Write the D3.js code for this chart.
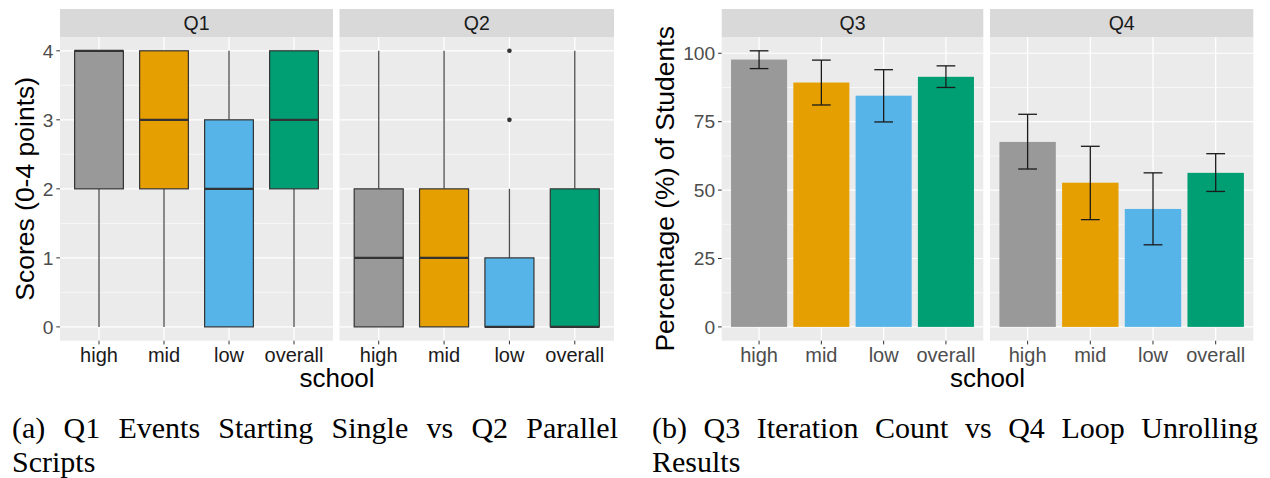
<!DOCTYPE html>
<html>
<head>
<meta charset="utf-8">
<script src="https://cdn.jsdelivr.net/npm/d3@7"></script>
<style>
  body { margin: 0; background: #ffffff; }
  svg { display: block; }
</style>
</head>
<body>
<svg id="fig" width="1270" height="478"></svg>
<script>
// ---- data ----------------------------------------------------------------
const schools = ["high", "mid", "low", "overall"];
const schoolColors = ["#999999", "#E69F00", "#56B4E9", "#009E73"];

// Q1 box-plot statistics (scores 0-4)
const q1WhiskerLow  = [0, 0, 0, 0];
const q1Lower       = [2, 2, 0, 2];
const q1Median      = [4, 3, 2, 3];
const q1Upper       = [4, 4, 3, 4];
const q1WhiskerHigh = [4, 4, 4, 4];
const q1Outliers    = [[], [], [], []];

// Q2 box-plot statistics (scores 0-4)
const q2WhiskerLow  = [0, 0, 0, 0];
const q2Lower       = [0, 0, 0, 0];
const q2Median      = [1, 1, 0, 0];
const q2Upper       = [2, 2, 1, 2];
const q2WhiskerHigh = [4, 4, 2, 4];
const q2Outliers    = [[], [], [3, 4], []];

// Q3 / Q4 percentage correct with confidence intervals
const q3Percent = [97.7, 89.3, 84.5, 91.4];
const q3Lo      = [94.4, 81.1, 74.9, 87.5];
const q3Hi      = [100.9, 97.5, 94.0, 95.4];
const q4Percent = [67.6, 52.7, 43.1, 56.3];
const q4Lo      = [57.7, 39.2, 30.0, 49.5];
const q4Hi      = [77.7, 66.0, 56.3, 63.3];

const scoreTicks = [0, 1, 2, 3, 4];
const scoreMinor = [0.5, 1.5, 2.5, 3.5];
const pctTicks = [0, 25, 50, 75, 100];
const pctMinor = [12.5, 37.5, 62.5, 87.5];

const captionA = ["(a) Q1 Events Starting Single vs Q2 Parallel", "Scripts"];
const captionB = ["(b) Q3 Iteration Count vs Q4 Loop Unrolling", "Results"];

// ---- layout --------------------------------------------------------------
const svg = d3.select("#fig");
const SANS = "'Liberation Sans', Arial, Helvetica, sans-serif";
const SERIF = "'Liberation Serif', 'Times New Roman', serif";
const stripTop = 9, panelTop = 37, panelBottom = 340.7;

const boxPanels = [
  { name: "Q1", x0: 60, x1: 333, lw: q1WhiskerLow, lo: q1Lower, med: q1Median, hi: q1Upper, hw: q1WhiskerHigh, out: q1Outliers },
  { name: "Q2", x0: 339.5, x1: 614, lw: q2WhiskerLow, lo: q2Lower, med: q2Median, hi: q2Upper, hw: q2WhiskerHigh, out: q2Outliers }
];
const barPanels = [
  { name: "Q3", x0: 721.7, x1: 983.3, val: q3Percent, lo: q3Lo, hi: q3Hi },
  { name: "Q4", x0: 990, x1: 1253.3, val: q4Percent, lo: q4Lo, hi: q4Hi }
];

// continuous y scales with ggplot-style 5% expansion
function expandedScale(lo, hi) {
  const pad = (hi - lo) * 0.05;
  return d3.scaleLinear().domain([lo - pad, hi + pad]).range([panelBottom, panelTop]);
}
const yScore = expandedScale(0, 4);
const yPct = expandedScale(0, d3.max([...q3Hi, ...q4Hi]));

// discrete x position scale (categories at 1..n, 0.6 expansion)
function xFor(p) {
  return d3.scaleLinear().domain([0.4, schools.length + 0.6]).range([p.x0, p.x1]);
}

function drawPanelFrame(p, y, major, minor, xLabelColor) {
  const g = svg.append("g");
  const x = xFor(p);
  // strip
  g.append("rect").attr("x", p.x0).attr("y", stripTop)
    .attr("width", p.x1 - p.x0).attr("height", panelTop - stripTop).attr("fill", "#D9D9D9");
  g.append("text").attr("x", (p.x0 + p.x1) / 2).attr("y", 30)
    .attr("text-anchor", "middle").attr("font-family", SANS).attr("font-size", 19.5)
    .attr("fill", "#1A1A1A").text(p.name);
  // background
  g.append("rect").attr("x", p.x0).attr("y", panelTop)
    .attr("width", p.x1 - p.x0).attr("height", panelBottom - panelTop).attr("fill", "#EBEBEB");
  // grid
  g.selectAll(".minor").data(minor).join("line")
    .attr("x1", p.x0).attr("x2", p.x1).attr("y1", d => y(d)).attr("y2", d => y(d))
    .attr("stroke", "#ffffff").attr("stroke-width", 0.6);
  g.selectAll(".majorY").data(major).join("line")
    .attr("x1", p.x0).attr("x2", p.x1).attr("y1", d => y(d)).attr("y2", d => y(d))
    .attr("stroke", "#ffffff").attr("stroke-width", 1.2);
  g.selectAll(".majorX").data(schools).join("line")
    .attr("x1", (d, i) => x(i + 1)).attr("x2", (d, i) => x(i + 1))
    .attr("y1", panelTop).attr("y2", panelBottom)
    .attr("stroke", "#ffffff").attr("stroke-width", 1.2);
  // x axis ticks + labels
  g.selectAll(".xt").data(schools).join("line")
    .attr("x1", (d, i) => x(i + 1)).attr("x2", (d, i) => x(i + 1))
    .attr("y1", panelBottom).attr("y2", panelBottom + 3.7)
    .attr("stroke", "#333333").attr("stroke-width", 1);
  g.selectAll(".xl").data(schools).join("text")
    .attr("x", (d, i) => x(i + 1)).attr("y", 362)
    .attr("text-anchor", "middle").attr("font-family", SANS).attr("font-size", 20)
    .attr("fill", xLabelColor).text(d => d);
  return { g, x };
}

function drawYAxis(x0, y, ticks, fmt) {
  const g = svg.append("g");
  g.selectAll("line").data(ticks).join("line")
    .attr("x1", x0 - 3.7).attr("x2", x0).attr("y1", d => y(d)).attr("y2", d => y(d))
    .attr("stroke", "#333333").attr("stroke-width", 1);
  g.selectAll("text").data(ticks).join("text")
    .attr("x", x0 - 6.5).attr("y", d => y(d) + 6.8)
    .attr("text-anchor", "end").attr("font-family", SANS).attr("font-size", 19.2)
    .attr("fill", "#4D4D4D").text(fmt);
}

function axisTitles(xTitleX, yTitleX, yText) {
  svg.append("text").attr("x", xTitleX).attr("y", 387)
    .attr("text-anchor", "middle").attr("font-family", SANS).attr("font-size", 26)
    .attr("fill", "#000").text("school");
  svg.append("text")
    .attr("transform", `translate(${yTitleX},${(panelTop + panelBottom) / 2}) rotate(-90)`)
    .attr("text-anchor", "middle").attr("font-family", SANS).attr("font-size", 26.5)
    .attr("fill", "#000").text(yText);
}

// ---- (a) box plots --------------------------------------------------------
boxPanels.forEach(p => {
  const { g, x } = drawPanelFrame(p, yScore, scoreTicks, scoreMinor, "#1A1A1A");
  const half = 0.375;
  schools.forEach((s, i) => {
    const cx = x(i + 1);
    // whiskers
    g.append("line").attr("x1", cx).attr("x2", cx)
      .attr("y1", yScore(p.hi[i])).attr("y2", yScore(p.hw[i]))
      .attr("stroke", "#4D4D4D").attr("stroke-width", 1.3);
    g.append("line").attr("x1", cx).attr("x2", cx)
      .attr("y1", yScore(p.lo[i])).attr("y2", yScore(p.lw[i]))
      .attr("stroke", "#4D4D4D").attr("stroke-width", 1.3);
    // box
    const bx0 = x(i + 1 - half), bx1 = x(i + 1 + half);
    g.append("rect").attr("x", bx0).attr("y", yScore(p.hi[i]))
      .attr("width", bx1 - bx0).attr("height", Math.max(0, yScore(p.lo[i]) - yScore(p.hi[i])))
      .attr("fill", schoolColors[i]).attr("stroke", "#333333").attr("stroke-width", 1.2);
    // median
    g.append("line").attr("x1", bx0).attr("x2", bx1)
      .attr("y1", yScore(p.med[i])).attr("y2", yScore(p.med[i]))
      .attr("stroke", "#333333").attr("stroke-width", 2.2);
    // outliers
    g.selectAll(null).data(p.out[i]).join("circle")
      .attr("cx", cx).attr("cy", d => yScore(d)).attr("r", 2.3).attr("fill", "#333333");
  });
});
drawYAxis(boxPanels[0].x0, yScore, scoreTicks, d => d);
axisTitles((boxPanels[0].x0 + boxPanels[1].x1) / 2, 33.5, "Scores (0-4 points)");

// ---- (b) bar charts -------------------------------------------------------
barPanels.forEach(p => {
  const { g, x } = drawPanelFrame(p, yPct, pctTicks, pctMinor, "#4D4D4D");
  schools.forEach((s, i) => {
    const bx0 = x(i + 1 - 0.45), bx1 = x(i + 1 + 0.45);
    g.append("rect").attr("x", bx0).attr("y", yPct(p.val[i]))
      .attr("width", bx1 - bx0).attr("height", yPct(0) - yPct(p.val[i]))
      .attr("fill", schoolColors[i]);
  });
  schools.forEach((s, i) => {
    const cx = x(i + 1), c0 = x(i + 1 - 0.15), c1 = x(i + 1 + 0.15);
    const eg = g.append("g").attr("stroke", "#1A1A1A").attr("stroke-width", 1.3);
    eg.append("line").attr("x1", cx).attr("x2", cx).attr("y1", yPct(p.lo[i])).attr("y2", yPct(p.hi[i]));
    eg.append("line").attr("x1", c0).attr("x2", c1).attr("y1", yPct(p.lo[i])).attr("y2", yPct(p.lo[i]));
    eg.append("line").attr("x1", c0).attr("x2", c1).attr("y1", yPct(p.hi[i])).attr("y2", yPct(p.hi[i]));
  });
});
drawYAxis(barPanels[0].x0, yPct, pctTicks, d => d);
axisTitles((barPanels[0].x0 + barPanels[1].x1) / 2, 673.5, "Percentage (%) of Students");

// ---- captions (first line justified across the column) --------------------
function caption(lines, x0, x1) {
  const size = 30;
  const words = lines[0].split(" ");
  const nodes = words.map(w => svg.append("text").attr("y", 438)
    .attr("font-family", SERIF).attr("font-size", size).attr("fill", "#000").text(w));
  const widths = nodes.map(n => n.node().getComputedTextLength());
  const gap = (x1 - x0 - d3.sum(widths)) / (words.length - 1);
  let cx = x0;
  nodes.forEach((n, i) => { n.attr("x", cx); cx += widths[i] + gap; });
  svg.append("text").attr("x", x0).attr("y", 472)
    .attr("font-family", SERIF).attr("font-size", size).attr("fill", "#000").text(lines[1]);
}
caption(captionA, 12, 618);
caption(captionB, 652, 1258);
</script>
</body>
</html>
